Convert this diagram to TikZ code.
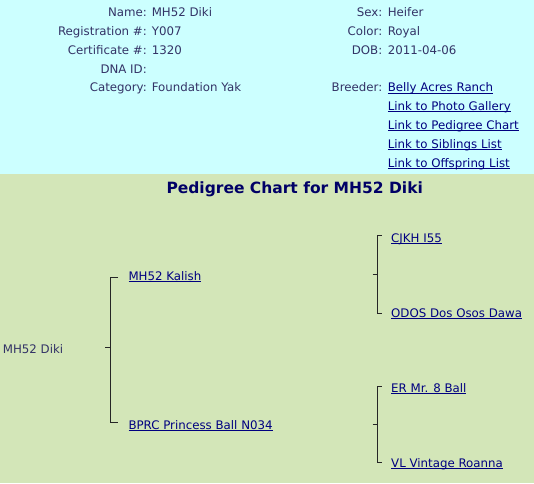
\documentclass[tikz,border=0pt]{standalone}
\usepackage{fontspec}
\setmainfont{DejaVu Sans}
\definecolor{topbg}{HTML}{CCFFFF}
\definecolor{botbg}{HTML}{D3E6B8}
\definecolor{txt}{HTML}{333366}
\definecolor{lnk}{HTML}{000080}
\definecolor{ttl}{HTML}{000066}
\newcommand{\lnkul}[1]{{\setbox0\hbox{#1}\rlap{\color{lnk}\rule[-1.6pt]{\wd0}{0.9pt}}\box0}}
\tikzset{
  lab/.style={anchor=base east,inner sep=0pt,text=txt,font=\fontsize{11.8}{14}\selectfont},
  val/.style={anchor=base west,inner sep=0pt,text=txt,font=\fontsize{11.8}{14}\selectfont},
  lk/.style={anchor=base west,inner sep=0pt,text=lnk,font=\fontsize{11.8}{14}\selectfont},
  br/.style={draw=black!85,line width=0.9pt},
}
\begin{document}
\begin{tikzpicture}[x=1pt,y=-1pt]
\useasboundingbox (0,0) rectangle (534,483);
\fill[topbg] (0,0) rectangle (534,173.5);
\fill[botbg] (0,173.5) rectangle (534,483);
% left column
\node[lab] (l1) at (147,16.7) {Name:};
\node[val] (v1) at (151.6,16.7) {MH52 Diki};
\node[lab] (l2) at (147,35.5) {Registration \#:};
\node[val] (v2) at (151.6,35.5) {Y007};
\node[lab] (l3) at (147,54.3) {Certificate \#:};
\node[val] (v3) at (151.6,54.3) {1320};
\node[lab] (l4) at (147,73.1) {DNA ID:};
\node[lab] (l5) at (147,91.9) {Category:};
\node[val] (v5) at (151.6,91.9) {Foundation Yak};
% right column
\node[lab] (r1) at (382.5,16.7) {Sex:};
\node[val] (s1) at (387.6,16.7) {Heifer};
\node[lab] (r2) at (382.5,35.5) {Color:};
\node[val] (s2) at (387.6,35.5) {Royal};
\node[lab] (r3) at (382.5,54.3) {DOB:};
\node[val] (s3) at (387.6,54.3) {2011-04-06};
\node[lab] (r5) at (382.5,91.9) {Breeder:};
\node[lk] (s5) at (387.6,91.9) {\lnkul{Belly Acres Ranch}};
\node[lk] (k1) at (387.6,110.7) {\lnkul{Link to Photo Gallery}};
\node[lk] (k2) at (387.6,129.5) {\lnkul{Link to Pedigree Chart}};
\node[lk] (k3) at (387.6,148.3) {\lnkul{Link to Siblings List}};
\node[lk] (k4) at (387.6,167.1) {\lnkul{Link to Offspring List}};
% title
\node[anchor=base,inner sep=0pt,text=ttl,font=\fontsize{15.5}{18}\selectfont\bfseries] (title) at (294.7,193.3) {Pedigree Chart for MH52 Diki};
% pedigree
\node[val] (diki) at (2.7,353.7) {MH52 Diki};
\node[lk] (sire) at (128.3,280) {\lnkul{MH52 Kalish}};
\node[lk] (dam) at (128.3,429) {\lnkul{BPRC Princess Ball N034}};
\node[lk] (ss) at (391,242) {\lnkul{CJKH I55}};
\node[lk] (sd) at (391,317.3) {\lnkul{ODOS Dos Osos Dawa}};
\node[lk] (ds) at (391,392) {\lnkul{ER Mr. 8 Ball}};
\node[lk] (dd) at (391,467) {\lnkul{VL Vintage Roanna}};
% bracket junctions
\coordinate (t0) at (105,347.7);
\coordinate (j0) at (110.3,347.7);
\coordinate (a0) at (110.3,277.3);
\coordinate (b0) at (110.3,422.3);
\coordinate (a0e) at (118,277.3);
\coordinate (b0e) at (118,422.3);
\draw[br] (t0) -- (j0);
\draw[br] (a0e) -- (a0) -- (b0) -- (b0e);
\coordinate (t1) at (372.7,274);
\coordinate (j1) at (377.7,274);
\coordinate (a1) at (377.7,235.7);
\coordinate (b1) at (377.7,313.3);
\coordinate (a1e) at (381.7,235.7);
\coordinate (b1e) at (381.7,313.3);
\draw[br] (t1) -- (j1);
\draw[br] (a1e) -- (a1) -- (b1) -- (b1e);
\coordinate (t2) at (372.7,424);
\coordinate (j2) at (377.7,424);
\coordinate (a2) at (377.7,386);
\coordinate (b2) at (377.7,462.7);
\coordinate (a2e) at (381.7,386);
\coordinate (b2e) at (381.7,462.7);
\draw[br] (t2) -- (j2);
\draw[br] (a2e) -- (a2) -- (b2) -- (b2e);
\end{tikzpicture}
\end{document}
